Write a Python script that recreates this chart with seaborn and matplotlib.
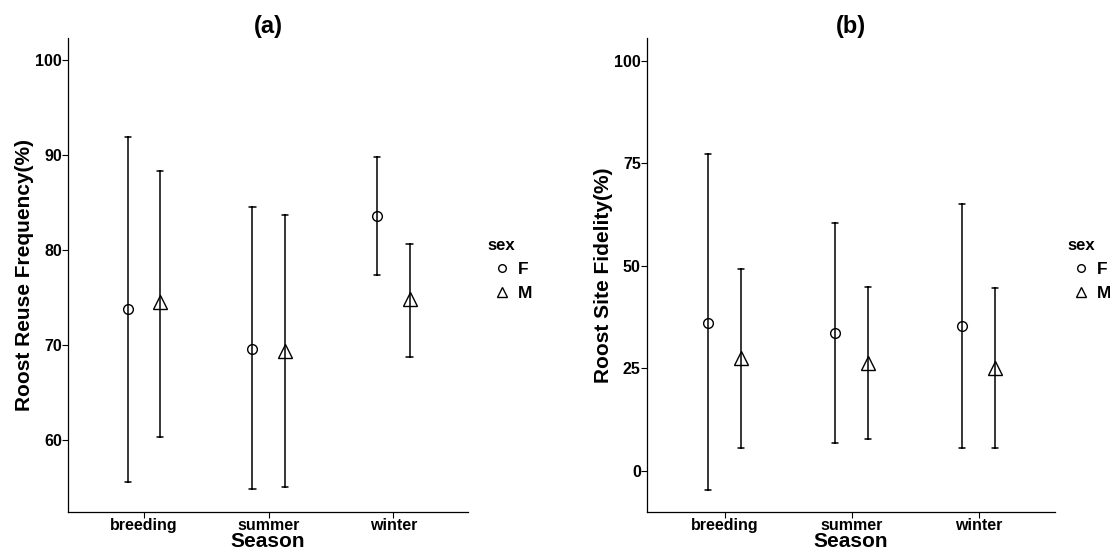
import numpy as np
import pandas as pd
import matplotlib
matplotlib.use("Agg")
import matplotlib.pyplot as plt
import seaborn as sns

seasons = ["breeding", "summer", "winter"]
sexes = ["F", "M"]

# (a) Roost reuse frequency: point estimate and interval ends per season
reuse_mean_f = [73.8, 69.6, 83.6]
reuse_low_f = [55.6, 54.8, 77.4]
reuse_high_f = [91.9, 84.5, 89.8]
reuse_mean_m = [74.5, 69.3, 74.8]
reuse_low_m = [60.3, 55.0, 68.7]
reuse_high_m = [88.3, 83.7, 80.6]

# (b) Roost site fidelity
fid_mean_f = [36.1, 33.6, 35.3]
fid_low_f = [-4.7, 6.8, 5.5]
fid_high_f = [77.3, 60.4, 65.1]
fid_mean_m = [27.5, 26.3, 25.2]
fid_low_m = [5.5, 7.7, 5.5]
fid_high_m = [49.3, 44.7, 44.5]


def to_long(mean_f, low_f, high_f, mean_m, low_m, high_m):
    # three rows per group (low, mean, high): median gives the point,
    # the full percentile interval gives the whiskers
    rows = []
    for sex, means, lows, highs in [("F", mean_f, low_f, high_f),
                                    ("M", mean_m, low_m, high_m)]:
        for s, m, lo, hi in zip(seasons, means, lows, highs):
            for v in (lo, m, hi):
                rows.append({"Season": s, "sex": sex, "value": v})
    return pd.DataFrame(rows)


sns.set_style("ticks", {"axes.edgecolor": "black", "xtick.color": "black",
                        "ytick.color": "black", "xtick.direction": "out",
                        "ytick.direction": "out", "text.color": "black",
                        "axes.labelcolor": "black"})
plt.rcParams["font.family"] = ["Liberation Sans", "DejaVu Sans"]
plt.rcParams["font.weight"] = "bold"
plt.rcParams["axes.labelweight"] = "bold"
plt.rcParams["axes.titleweight"] = "bold"
plt.rcParams["text.color"] = "black"
plt.rcParams["axes.labelcolor"] = "black"

fig = plt.figure(figsize=(11.1, 5.52), dpi=100)
ax_a = fig.add_axes([0.0613, 0.0725, 0.3604, 0.8587])
ax_b = fig.add_axes([0.5829, 0.0725, 0.3676, 0.8587])

panels = [
    (ax_a, to_long(reuse_mean_f, reuse_low_f, reuse_high_f,
                   reuse_mean_m, reuse_low_m, reuse_high_m),
     "(a)", "Roost Reuse Frequency(%)", (52.4, 102.3), [60, 70, 80, 90, 100], 0.4396),
    (ax_b, to_long(fid_mean_f, fid_low_f, fid_high_f,
                   fid_mean_m, fid_low_m, fid_high_m),
     "(b)", "Roost Site Fidelity(%)", (-10, 105.5), [0, 25, 50, 75, 100], 0.9613),
]

for ax, df, title, ylabel, ylim, yticks, leg_x in panels:
    sns.pointplot(data=df, x="Season", y="value", hue="sex",
                  order=seasons, hue_order=sexes,
                  estimator="median", errorbar=("pi", 100),
                  dodge=0.26, markers=["o", "^"], linestyle="none",
                  palette=["black", "black"], capsize=0.05,
                  err_kws={"linewidth": 1.1},
                  markersize=7, markerfacecolor="none", markeredgewidth=1.0,
                  ax=ax)
    for ln in ax.lines:
        if ln.get_marker() == "^":
            ln.set_markersize(9.5)
    ax.set_xlim(-0.61, 2.6)
    ax.set_ylim(*ylim)
    ax.set_yticks(yticks)
    ax.set_title(title, fontsize=17, pad=0, color="black")
    ax.set_xlabel("Season", fontsize=15, labelpad=-1, color="black")
    ax.set_ylabel(ylabel, fontsize=15, labelpad=0.5, color="black")
    ax.tick_params(labelsize=11.5, length=4, width=0.8, pad=0.5,
                   labelcolor="black")
    for sp in ["left", "bottom"]:
        ax.spines[sp].set_linewidth(0.9)
    sns.despine(ax=ax)
    leg = ax.get_legend()
    handles = leg.legend_handles
    for h in handles:
        h.set_markerfacecolor("none")
        h.set_linestyle("none")
        h.set_markersize(7 if h.get_marker() == "^" else 5.5)
    lg = ax.legend(handles=handles, labels=sexes, title="sex",
                   loc="upper left", bbox_to_anchor=(leg_x, 0.568),
                   bbox_transform=fig.transFigure, frameon=False,
                   fontsize=12.5, title_fontsize=12, handlelength=1.6,
                   handletextpad=0.1, borderpad=0, borderaxespad=0,
                   labelspacing=0.5, alignment="left")
    lg.get_title().set_color("black")

fig.savefig("out.png", dpi=100)
